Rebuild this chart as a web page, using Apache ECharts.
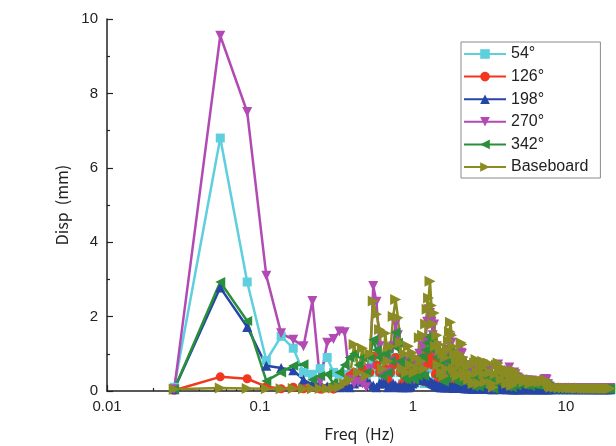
<!DOCTYPE html>
<html>
<head>
<meta charset="utf-8">
<script src="https://cdn.jsdelivr.net/npm/echarts@6/dist/echarts.min.js"></script>
<style>
  html, body { margin: 0; padding: 0; background: #fff; }
  #chart { width: 616px; height: 446px; }
</style>
</head>
<body>
<div id="chart"></div>
<script>
// frequency bins (Hz): every bin to 2.2 Hz, then thinner
var freq = [
  0.0275, 0.055, 0.0825, 0.11, 0.1375, 0.165, 0.1925, 0.22, 0.2475, 0.275,
  0.3025, 0.33, 0.3575, 0.385, 0.4125, 0.44, 0.4675, 0.495, 0.5225, 0.55,
  0.5775, 0.605, 0.6325, 0.66, 0.6875, 0.715, 0.7425, 0.77, 0.7975, 0.825,
  0.8525, 0.88, 0.9075, 0.935, 0.9625, 0.99, 1.0175, 1.045, 1.0725, 1.1,
  // 1.1 - 2.2
  1.1275, 1.155, 1.1825, 1.21, 1.2375, 1.265, 1.2925, 1.32, 1.3475, 1.375,
  1.4025, 1.43, 1.4575, 1.485, 1.5125, 1.54, 1.5675, 1.595, 1.6225, 1.65,
  1.6775, 1.705, 1.7325, 1.76, 1.7875, 1.815, 1.8425, 1.87, 1.8975, 1.925,
  1.9525, 1.98, 2.0075, 2.035, 2.0625, 2.09, 2.1175, 2.145, 2.1725, 2.2,
  // 2.2 - 3
  2.255, 2.31, 2.365, 2.42, 2.475, 2.53, 2.585, 2.64, 2.695, 2.75,
  2.805, 2.86, 2.915, 2.97, 3.025,
  // 3 - 5
  3.1075, 3.19, 3.2725, 3.355, 3.4375, 3.52, 3.6025, 3.685, 3.7675, 3.85,
  3.9325, 4.015, 4.0975, 4.18, 4.2625, 4.345, 4.4275, 4.51, 4.5925, 4.675,
  4.7575, 4.84, 4.9225, 5.005,
  // 5 - 8
  5.17, 5.335, 5.5, 5.665, 5.83, 5.995, 6.16, 6.325, 6.49, 6.655,
  6.82, 6.985, 7.15, 7.315, 7.48, 7.645, 7.81, 7.975,
  // 8 - 20
  8.4975, 9.0475, 9.5975, 10.1475, 10.6975, 11.2475, 11.7975, 12.3475, 12.8975, 13.4475,
  13.9975, 14.5475, 15.0975, 15.6475, 16.1975, 16.7475, 17.2975, 17.8475, 18.3975, 18.9475,
  19.4975
];

var disp54 = [
  0.1, 6.8, 2.93, 0.82, 1.47, 1.15, 0.5, 0.45, 0.6, 0.9,
  0.5, 0.45, 0.45, 0.4, 0.5, 0.4, 0.6, 0.3, 0.5, 0.8,
  0.6, 0.5, 0.3, 0.6, 0.3, 0.5, 0.7, 0.9, 0.8, 0.5,
  0.2, 0.4, 0.2, 0.5, 0.2, 0.4, 0.2, 0.4, 0.3, 0.6,
  0.3, 0.5, 0.2, 0.6, 0.75, 0.9, 0.85, 0.75, 0.6, 0.7,
  0.4, 0.5, 0.2, 0.45, 0.4, 0.18, 0.35, 0.14, 0.3, 0.2,
  0.4, 0.45, 0.55, 0.65, 0.5, 0.4, 0.18, 0.35, 0.16, 0.3,
  0.12, 0.3, 0.35, 0.2, 0.45, 0.42, 0.3, 0.16, 0.25, 0.12,
  0.22, 0.1, 0.26, 0.17, 0.07, 0.27, 0.3, 0.17, 0.07, 0.22,
  0.27, 0.3, 0.15, 0.08, 0.26,
  0.22, 0.15, 0.07, 0.05, 0.15, 0.22, 0.26, 0.2, 0.09, 0.18,
  0.2, 0.15, 0.07, 0.16, 0.18, 0.1, 0.05, 0.15, 0.18, 0.16,
  0.08, 0.13, 0.13, 0.1,
  0.11, 0.09, 0.1, 0.1, 0.07, 0.1, 0.1, 0.09, 0.09, 0.09,
  0.09, 0.09, 0.1, 0.1, 0.1, 0.07, 0.05, 0.05,
  0.05, 0.05, 0.05, 0.05, 0.05, 0.05, 0.05, 0.05, 0.05, 0.05,
  0.05, 0.05, 0.05, 0.05, 0.05, 0.05, 0.05, 0.05, 0.05, 0.05,
  0.05
];

var disp126 = [
  0.02, 0.38, 0.33, 0.12, 0.06, 0.1, 0.06, 0.1, 0.05, 0.08,
  0.05, 0.1, 0.2, 0.4, 0.5, 0.3, 0.6, 0.2, 0.5, 0.94,
  0.7, 0.5, 0.2, 0.6, 0.3, 0.5, 0.7, 0.9, 0.8, 0.5,
  0.2, 0.4, 0.2, 0.5, 0.2, 0.4, 0.2, 0.4, 0.3, 0.6,
  0.35, 0.6, 0.25, 0.7, 0.85, 1.0, 0.95, 0.85, 0.7, 0.8,
  0.45, 0.6, 0.25, 0.5, 0.45, 0.2, 0.4, 0.15, 0.35, 0.25,
  0.45, 0.5, 0.6, 0.75, 0.6, 0.45, 0.2, 0.4, 0.2, 0.35,
  0.15, 0.35, 0.4, 0.25, 0.5, 0.5, 0.35, 0.2, 0.3, 0.15,
  0.25, 0.12, 0.3, 0.2, 0.08, 0.3, 0.35, 0.2, 0.08, 0.25,
  0.3, 0.35, 0.18, 0.1, 0.3,
  0.25, 0.18, 0.08, 0.05, 0.18, 0.25, 0.3, 0.22, 0.1, 0.2,
  0.22, 0.18, 0.08, 0.18, 0.2, 0.12, 0.06, 0.17, 0.2, 0.18,
  0.1, 0.15, 0.15, 0.12,
  0.13, 0.1, 0.12, 0.12, 0.08, 0.12, 0.11, 0.1, 0.1, 0.1,
  0.1, 0.1, 0.11, 0.12, 0.11, 0.08, 0.06, 0.05,
  0.05, 0.05, 0.05, 0.05, 0.05, 0.05, 0.05, 0.05, 0.05, 0.05,
  0.05, 0.05, 0.05, 0.05, 0.05, 0.05, 0.05, 0.05, 0.05, 0.05,
  0.05
];

var disp198 = [
  0.05, 2.78, 1.72, 0.68, 0.62, 0.56, 0.3, 0.18, 0.2, 0.12,
  0.15, 0.1, 0.15, 0.1, 0.2, 0.3, 0.25, 0.3, 0.2, 0.15,
  0.1, 0.2, 0.25, 0.2, 0.1, 0.15, 0.2, 0.15, 0.1, 0.12,
  0.1, 0.15, 0.1, 0.1, 0.15, 0.2, 0.25, 0.3, 0.35, 0.3,
  0.3, 0.35, 0.3, 0.32, 0.28, 0.3, 0.25, 0.22, 0.2, 0.18,
  0.15, 0.15, 0.12, 0.12, 0.1, 0.1, 0.12, 0.1, 0.1, 0.1,
  0.12, 0.1, 0.1, 0.12, 0.1, 0.1, 0.08, 0.1, 0.08, 0.08,
  0.08, 0.1, 0.1, 0.08, 0.1, 0.1, 0.08, 0.08, 0.08, 0.07,
  0.08, 0.07, 0.08, 0.07, 0.06, 0.07, 0.08, 0.07, 0.06, 0.07,
  0.07, 0.07, 0.06, 0.06, 0.07,
  0.06, 0.06, 0.05, 0.05, 0.06, 0.06, 0.06, 0.06, 0.05, 0.06,
  0.06, 0.06, 0.05, 0.06, 0.06, 0.05, 0.05, 0.05, 0.05, 0.05,
  0.05, 0.05, 0.05, 0.05,
  0.05, 0.05, 0.05, 0.05, 0.05, 0.05, 0.05, 0.05, 0.05, 0.05,
  0.05, 0.05, 0.05, 0.05, 0.05, 0.05, 0.05, 0.05,
  0.05, 0.05, 0.05, 0.05, 0.05, 0.05, 0.05, 0.05, 0.05, 0.05,
  0.05, 0.05, 0.05, 0.05, 0.05, 0.05, 0.05, 0.05, 0.05, 0.05,
  0.05
];

var disp270 = [
  0.05, 9.55, 7.5, 3.1, 1.55, 1.38, 1.2, 2.42, 0.25, 1.3,
  1.4, 1.6, 1.58, 0.3, 0.2, 0.25, 0.2, 0.1, 0.6, 2.82,
  2.4, 1.2, 0.4, 0.9, 0.5, 0.8, 1.2, 1.8, 1.5, 0.7,
  0.5, 0.8, 0.4, 0.7, 0.4, 0.6, 0.3, 0.7, 0.5, 1.0,
  0.7, 1.2, 0.5, 1.4, 1.86, 2.2, 2.1, 1.86, 1.5, 1.79,
  1.0, 1.2, 0.6, 1.0, 0.9, 0.4, 0.8, 0.3, 0.7, 0.5,
  0.9, 1.1, 1.3, 1.44, 1.3, 1.0, 0.5, 0.8, 0.4, 0.7,
  0.3, 0.8, 0.9, 0.6, 1.03, 1.0, 0.8, 0.4, 0.7, 0.3,
  0.55, 0.25, 0.6, 0.4, 0.15, 0.62, 0.65, 0.4, 0.15, 0.5,
  0.6, 0.71, 0.35, 0.2, 0.55,
  0.6, 0.4, 0.15, 0.08, 0.4, 0.6, 0.71, 0.5, 0.25, 0.45,
  0.5, 0.4, 0.15, 0.45, 0.63, 0.25, 0.12, 0.4, 0.5, 0.45,
  0.2, 0.36, 0.33, 0.25,
  0.3, 0.22, 0.28, 0.28, 0.18, 0.28, 0.26, 0.24, 0.24, 0.23,
  0.23, 0.22, 0.28, 0.32, 0.31, 0.18, 0.12, 0.09,
  0.08, 0.08, 0.08, 0.08, 0.08, 0.08, 0.08, 0.08, 0.08, 0.08,
  0.08, 0.08, 0.08, 0.08, 0.08, 0.08, 0.08, 0.08, 0.08, 0.08,
  0.08
];

var disp342 = [
  0.05, 2.93, 1.88, 0.27, 0.5, 0.68, 0.72, 0.3, 0.4, 0.45,
  0.2, 0.5, 0.7, 0.9, 1.0, 0.7, 0.9, 0.5, 0.9, 1.38,
  1.1, 0.9, 0.4, 1.0, 0.5, 0.8, 1.2, 1.57, 1.3, 0.8,
  0.4, 0.7, 0.3, 0.8, 0.4, 0.6, 0.3, 0.6, 0.4, 0.9,
  0.5, 0.9, 0.4, 1.1, 1.3, 1.47, 1.45, 1.3, 1.1, 1.2,
  0.7, 0.9, 0.4, 0.75, 0.65, 0.3, 0.6, 0.25, 0.55, 0.35,
  0.65, 0.8, 0.95, 1.1, 0.9, 0.7, 0.35, 0.6, 0.3, 0.5,
  0.25, 0.55, 0.6, 0.4, 0.8, 0.75, 0.55, 0.3, 0.5, 0.25,
  0.4, 0.2, 0.45, 0.3, 0.12, 0.5, 0.55, 0.3, 0.12, 0.4,
  0.5, 0.55, 0.28, 0.15, 0.45,
  0.5, 0.35, 0.12, 0.06, 0.3, 0.45, 0.5, 0.4, 0.2, 0.35,
  0.4, 0.3, 0.12, 0.33, 0.36, 0.2, 0.1, 0.3, 0.35, 0.32,
  0.15, 0.26, 0.25, 0.2,
  0.22, 0.16, 0.2, 0.2, 0.13, 0.2, 0.18, 0.17, 0.17, 0.16,
  0.17, 0.16, 0.17, 0.2, 0.18, 0.13, 0.09, 0.07,
  0.06, 0.06, 0.06, 0.06, 0.06, 0.06, 0.06, 0.06, 0.06, 0.06,
  0.06, 0.06, 0.06, 0.06, 0.06, 0.06, 0.06, 0.06, 0.06, 0.06,
  0.06
];

var dispBase = [
  0.05, 0.08, 0.07, 0.06, 0.06, 0.07, 0.06, 0.06, 0.07, 0.06,
  0.08, 0.1, 0.2, 0.3, 1.25, 0.5, 1.15, 0.4, 1.0, 2.42,
  2.06, 1.65, 0.6, 1.55, 0.8, 1.2, 2.0, 2.46, 1.97, 1.3,
  0.6, 1.0, 0.5, 1.2, 0.7, 1.03, 0.5, 0.9, 0.6, 1.43,
  0.8, 1.5, 0.6, 1.8, 2.2, 2.5, 2.95, 2.3, 1.8, 2.1,
  1.2, 1.5, 0.7, 1.25, 1.1, 0.5, 1.0, 0.4, 0.9, 0.6,
  1.1, 1.35, 1.6, 1.85, 1.5, 1.2, 0.6, 1.0, 0.5, 0.8,
  0.4, 0.9, 1.0, 0.7, 1.3, 1.25, 0.9, 0.5, 0.8, 0.4,
  0.65, 0.3, 0.7, 0.45, 0.2, 0.75, 0.85, 0.5, 0.2, 0.6,
  0.75, 0.8, 0.45, 0.25, 0.7,
  0.75, 0.5, 0.2, 0.1, 0.45, 0.7, 0.75, 0.6, 0.3, 0.55,
  0.6, 0.45, 0.2, 0.5, 0.55, 0.3, 0.15, 0.45, 0.55, 0.5,
  0.25, 0.4, 0.38, 0.3,
  0.35, 0.25, 0.32, 0.3, 0.2, 0.3, 0.28, 0.26, 0.27, 0.25,
  0.26, 0.24, 0.26, 0.3, 0.27, 0.2, 0.14, 0.1,
  0.1, 0.09, 0.09, 0.08, 0.08, 0.08, 0.07, 0.08, 0.07, 0.07,
  0.07, 0.07, 0.07, 0.07, 0.07, 0.07, 0.07, 0.07, 0.07, 0.07,
  0.07
];

var xMinorTicks = [
  0.02, 0.03, 0.04, 0.05, 0.06, 0.07, 0.08, 0.09,
  0.2, 0.3, 0.4, 0.5, 0.6, 0.7, 0.8, 0.9,
  2, 3, 4, 5, 6, 7, 8, 9
];

var myChart = echarts.init(document.getElementById('chart'), null, { renderer: 'canvas' });

function pairs(values) {
  return freq.map(function (f, i) { return [f, values[i]]; });
}

function makeSeries(name, values, color, symbol, size, rotate) {
  return {
    type: 'line',
    name: name,
    data: pairs(values),
    symbol: symbol,
    symbolSize: size,
    symbolRotate: rotate,
    showAllSymbol: true,
    color: color,
    itemStyle: { color: color },
    lineStyle: { color: color, width: 2.5 },
    emphasis: { disabled: true }
  };
}

var axisFont = 'Liberation Sans, Arial, sans-serif';

var option = {
  animation: false,
  backgroundColor: '#fff',
  grid: {
    left: 107,
    right: 4,
    top: 19,
    bottom: 55,
    outerBoundsMode: 'none'
  },
  legend: {
    orient: 'vertical',
    left: 461,
    top: 42,
    padding: [3, 12, 2, 2],
    itemGap: 4.6,
    itemWidth: 42,
    itemHeight: 12,
    borderColor: '#8a8a8a',
    borderWidth: 1,
    textStyle: {
      fontFamily: axisFont,
      fontSize: 16,
      lineHeight: 18,
      color: '#222'
    },
    data: ['54°', '126°', '198°', '270°', '342°', 'Baseboard']
  },
  xAxis: [
    {
      type: 'log',
      logBase: 10,
      min: 0.01,
      max: 20,
      name: 'Freq  (Hz)',
      nameLocation: 'middle',
      nameGap: 35,
      nameTextStyle: {
        fontFamily: 'Noto Sans CJK SC, sans-serif',
        fontSize: 16,
        color: '#222'
      },
      axisLine: { lineStyle: { color: '#222', width: 1.5 } },
      axisTick: { inside: true, length: 6, lineStyle: { color: '#222', width: 1.2 } },
      axisLabel: {
        margin: 8,
        fontFamily: axisFont,
        fontSize: 15,
        color: '#222',
        showMaxLabel: false
      },
      splitLine: { show: false }
    },
    {
      type: 'log',
      logBase: 10,
      min: 0.01,
      max: 20,
      position: 'bottom',
      axisLine: { show: false },
      axisLabel: { show: false },
      axisTick: {
        inside: true,
        length: 3,
        customValues: xMinorTicks,
        lineStyle: { color: '#222', width: 1.2 }
      },
      splitLine: { show: false }
    }
  ],
  yAxis: {
    type: 'value',
    min: 0,
    max: 10,
    interval: 2,
    name: 'Disp  (mm)',
    nameLocation: 'middle',
    nameGap: 30,
    nameTextStyle: {
      fontFamily: 'Noto Sans CJK SC, sans-serif',
      fontSize: 16,
      color: '#222'
    },
    axisLine: { show: true, lineStyle: { color: '#222', width: 1.5 } },
    axisTick: { show: true, inside: true, length: 6, lineStyle: { color: '#222', width: 1.2 } },
    minorTick: { show: true, splitNumber: 2, length: 3, lineStyle: { color: '#222', width: 1.2 } },
    axisLabel: {
      margin: 9,
      fontFamily: axisFont,
      fontSize: 15,
      color: '#222'
    },
    splitLine: { show: false }
  },
  series: [
    makeSeries('54°', disp54, '#5ecfdc', 'rect', 9, 0),
    makeSeries('126°', disp126, '#f2371f', 'circle', 9, 0),
    makeSeries('198°', disp198, '#2546a6', 'triangle', 10, 0),
    makeSeries('270°', disp270, '#b24ab4', 'triangle', 10, 180),
    makeSeries('342°', disp342, '#2a8f3a', 'triangle', 10, 90),
    makeSeries('Baseboard', dispBase, '#8a8b22', 'triangle', 11, -90)
  ]
};

myChart.setOption(option);
</script>
</body>
</html>
